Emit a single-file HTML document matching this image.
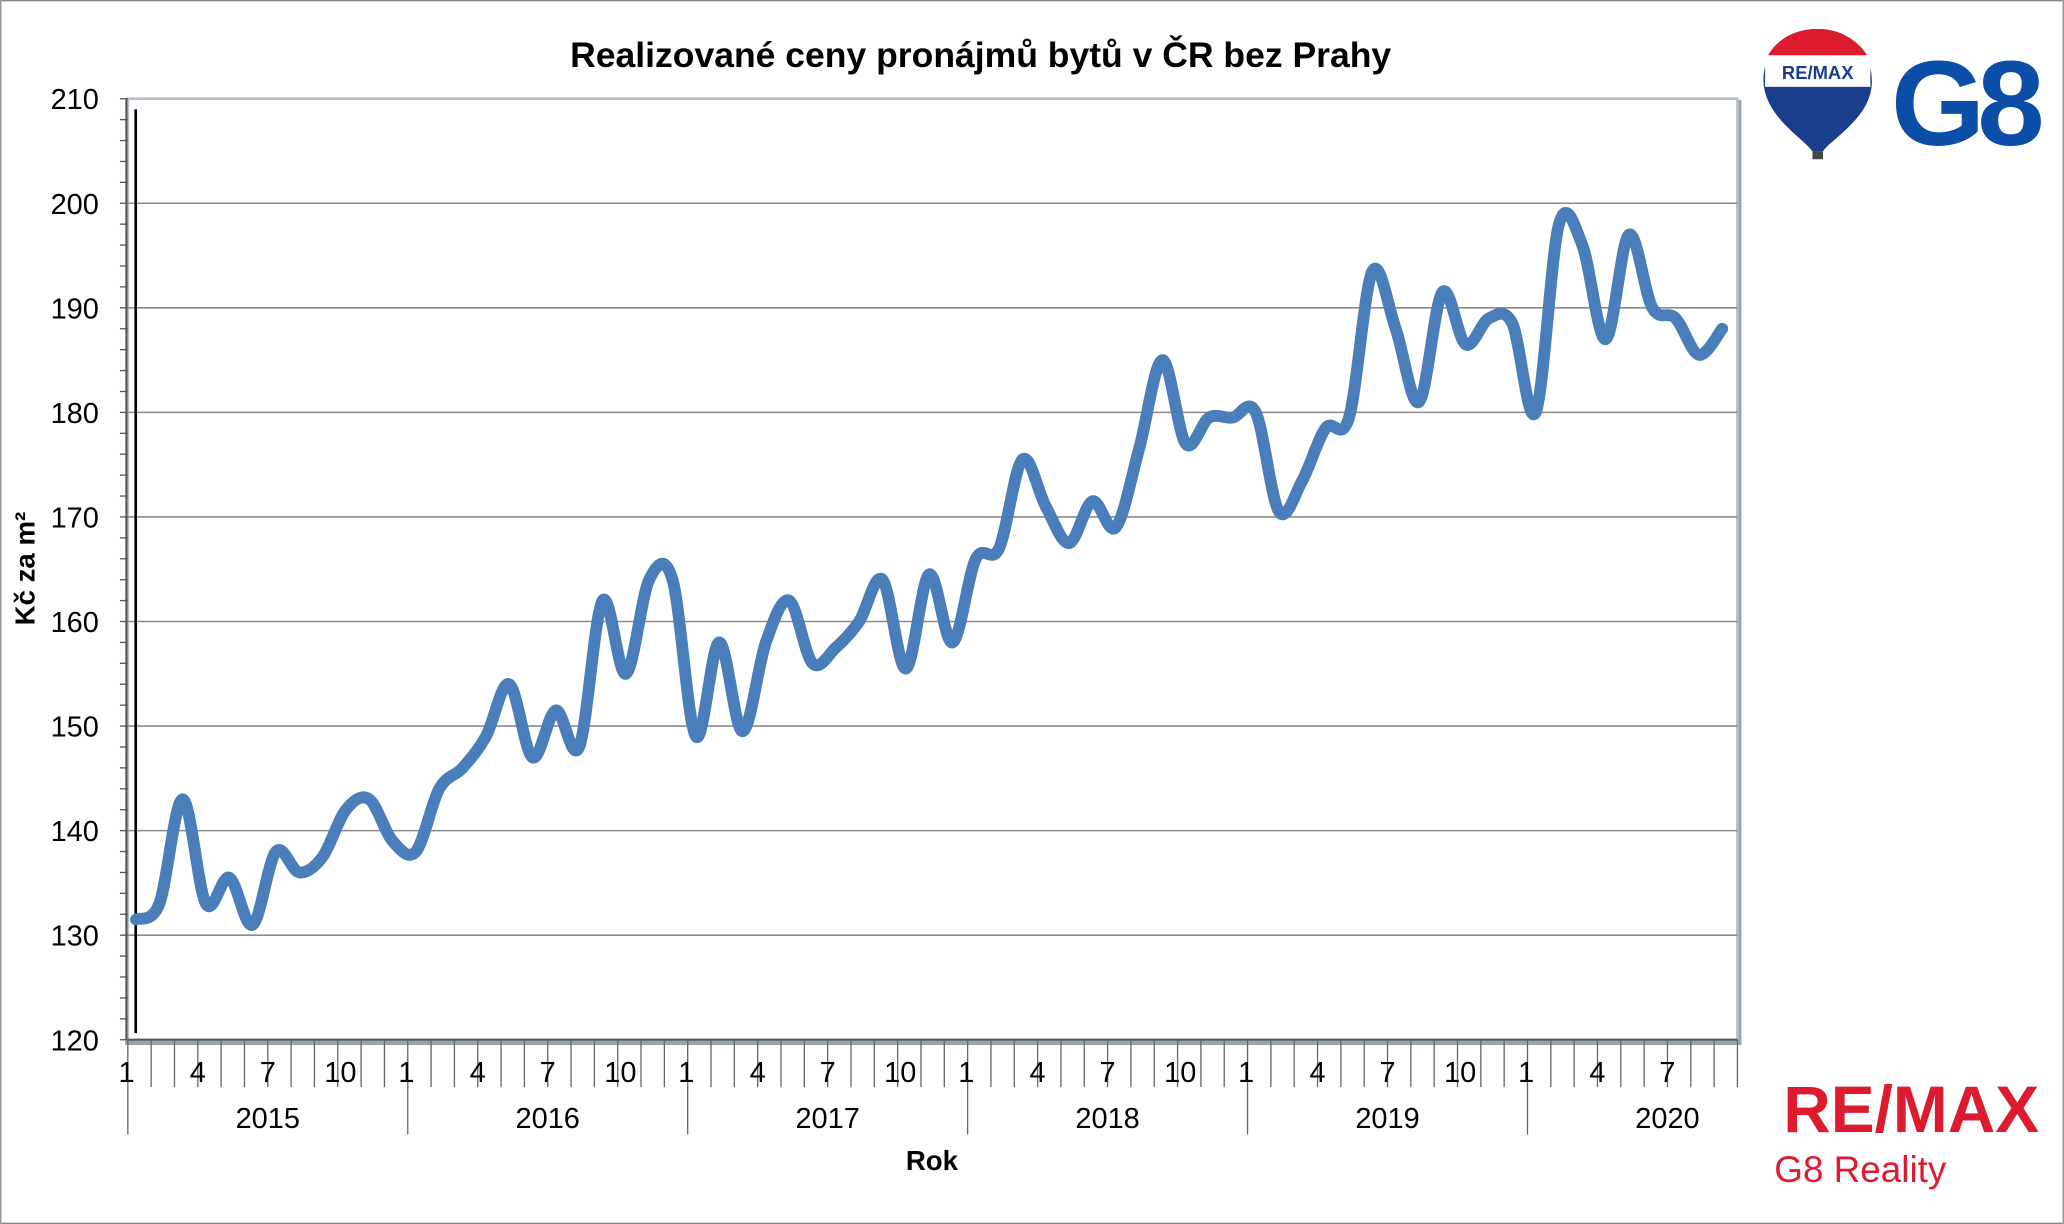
<!DOCTYPE html>
<html><head><meta charset="utf-8"><style>
html,body{margin:0;padding:0;background:#fff;}
svg{display:block;font-family:"Liberation Sans",Arial,sans-serif;}
</style></head><body>
<svg id="chart" width="2064" height="1224" viewBox="0 0 1568 930" xmlns="http://www.w3.org/2000/svg">
<rect x="0.5" y="0.5" width="1567" height="929" fill="#fff" stroke="#888"/>
<text x="745" y="51" text-anchor="middle" font-size="27" font-weight="bold">Realizované ceny pronájmů bytů v ČR bez Prahy</text>
<rect x="95" y="76" width="1228" height="718" fill="#9aa3b0"/>
<rect x="97" y="75" width="1223" height="715" fill="#fff" stroke="#b8bec8" stroke-width="2"/>
<g id="grid"></g>
<line x1="103" y1="83" x2="103" y2="785" stroke="#000" stroke-width="2"/>
<g id="yax"></g>
<g id="xax"></g>
<path id="line" fill="none" stroke="#4a7ebb" stroke-width="9" stroke-linejoin="round" stroke-linecap="round"/>
<text transform="translate(26,432) rotate(-90)" text-anchor="middle" font-size="21" font-weight="bold">Kč za m²</text>
<text x="708" y="889" text-anchor="middle" font-size="21" font-weight="bold">Rok</text>
<g>
<path d="M1381 22 C1350 22 1338 45 1340 65 C1343 90 1370 105 1377 115 L1385 115 C1392 105 1420 90 1422 65 C1424 45 1410 22 1381 22Z" fill="#1a3e8c"/>
<path d="M1381 22 C1355 22 1341 40 1341 50 L1421 50 C1421 40 1405 22 1381 22Z" fill="#dc1c2e"/>
<rect x="1341" y="42" width="80" height="24" fill="#fff"/>
<text x="1381" y="60" text-anchor="middle" font-size="14" font-weight="bold" fill="#1a3e8c">RE/MAX</text>
<rect x="1377" y="115" width="8" height="6" fill="#444"/>
</g>
<text x="1492" y="110" text-anchor="middle" font-size="92" font-weight="bold" fill="#0a4ea8" letter-spacing="-6">G8</text>
<text x="1452" y="860" text-anchor="middle" font-size="50" font-weight="bold" fill="#dc1c2e">RE/MAX</text>
<text x="1348" y="898" font-size="28" fill="#dc1c2e">G8 Reality</text>
</svg>
<script>
const values=[131.5,133,143,133,135.5,131,138,136,137.5,142,143,139,
138,144,146,149,154,147,151.5,148,162,155,164,164,
149,158,149.5,158,162,156,157.5,160,164,155.5,164.5,158,
166,167,175.5,171,167.5,171.5,169,176.5,185,177,179.5,179.5,
180,170.5,173.5,178.5,179.5,193.5,188,181,191.5,186.5,189,188.5,
180,198,196,187,197,190,189,185.5,188];
const yTicks=[120,130,140,150,160,170,180,190,200,210];
const years=["2015","2016","2017","2018","2019","2020"];
const monthLabels=["1","4","7","10"];
const NS="http://www.w3.org/2000/svg";
const X0=97,X1=1320,Y0=790,Y1=75,YMIN=120,YMAX=210;
const n=values.length, step=(X1-X0)/n;
function xs(i){return X0+step*(i+0.35);}
function ys(v){return Y0-(v-YMIN)/(YMAX-YMIN)*(Y0-Y1);}
function mk(tag,attrs,parent){const e=document.createElementNS(NS,tag);for(const k in attrs)e.setAttribute(k,attrs[k]);parent.appendChild(e);return e;}
const grid=document.getElementById('grid'),yax=document.getElementById('yax'),xax=document.getElementById('xax');
yTicks.forEach(v=>{
 if(v>YMIN&&v<YMAX){const l=mk('line',{x1:X0,x2:X1,y1:ys(v),y2:ys(v),stroke:'#8a8a8a','stroke-width':1.2},grid);
 
 }
 const t=mk('text',{x:75,y:ys(v)+8,'text-anchor':'end','font-size':22},yax);t.textContent=v;
 
 
});
for(let v=YMIN;v<=YMAX;v+=2){const l=mk('line',{x1:91,x2:97,y1:ys(v),y2:ys(v),stroke:'#555','stroke-width':1},yax);
 
 }
mk('line',{x1:96,x2:96,y1:Y1,y2:Y0,stroke:'#555','stroke-width':1.5},yax);
mk('line',{x1:X0,x2:X1,y1:Y0,y2:Y0,stroke:'#555','stroke-width':1.5},xax);
for(let i=0;i<=n;i++){const x=X0+step*i;const big=i%12===0;
 const l=mk('line',{x1:x,x2:x,y1:Y0,y2:big?862:826,stroke:'#666','stroke-width':1},xax);
 
 }
for(let i=0;i<n;i++){const m=i%12;if(m%3===0){const t=mk('text',{x:X0+step*i+(m===0?-1:m===9?2:0),y:822,'text-anchor':'middle','font-size':22},xax);
 t.textContent=monthLabels[m/3];
 
 }}
years.forEach((y,k)=>{const t=mk('text',{x:X0+step*(12*k+6),y:857,'text-anchor':'middle','font-size':22},xax);t.textContent=y;
 
 });
const pts=values.map((v,i)=>[xs(i),ys(v)]);
let d='M'+pts[0][0]+' '+pts[0][1];
for(let i=0;i<pts.length-1;i++){const p0=pts[Math.max(0,i-1)],p1=pts[i],p2=pts[i+1],p3=pts[Math.min(pts.length-1,i+2)];
 const c1=[p1[0]+(p2[0]-p0[0])/6,p1[1]+(p2[1]-p0[1])/6],c2=[p2[0]-(p3[0]-p1[0])/6,p2[1]-(p3[1]-p1[1])/6];
 d+=` C${c1[0]} ${c1[1]} ${c2[0]} ${c2[1]} ${p2[0]} ${p2[1]}`;}
document.getElementById('line').setAttribute('d',d);
</script>
</body></html>
